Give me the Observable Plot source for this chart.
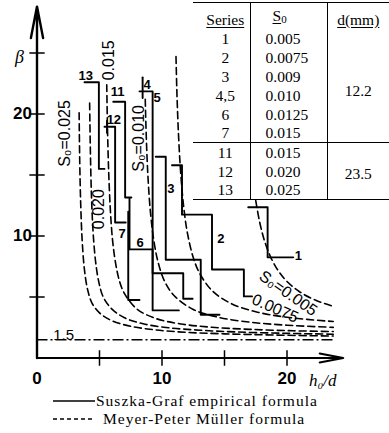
<!DOCTYPE html>
<html><head><meta charset="utf-8">
<script src="https://cdn.jsdelivr.net/npm/d3@7"></script>
<script src="https://cdn.jsdelivr.net/npm/@observablehq/plot@0.6"></script>
<style>
html,body{margin:0;padding:0;background:#fff;}
#wrap{position:relative;width:389px;height:433px;overflow:hidden;background:#fff;}
#chart{position:absolute;left:0;top:0;}
table.t{position:absolute;left:193px;top:2px;border-collapse:collapse;font-family:"Liberation Serif","Times New Roman",serif;font-size:15.5px;color:#000;border-top:1.5px solid #000;border-bottom:1.5px solid #000;}
table.t td,table.t th{padding:0;line-height:17px;height:19px;font-weight:normal;}
table.t th{height:26px;vertical-align:bottom;padding-bottom:1px;text-decoration:underline;text-underline-offset:2px;}
table.t .c1{width:57px;text-align:center;padding-left:8px;box-sizing:border-box;}
table.t .c2{width:77px;text-align:left;padding-left:15px;box-sizing:border-box;border-left:1.5px solid #000;}
table.t .c3{width:62px;text-align:center;box-sizing:border-box;border-left:1.5px solid #000;}
table.t th.c2{padding-left:22px;}
table.t tr.sep td{border-top:1.5px solid #000;}
.leg{position:absolute;left:53px;height:18px;line-height:18px;font-family:"Liberation Serif","Times New Roman",serif;font-size:15.5px;letter-spacing:1px;color:#000;white-space:nowrap;display:flex;align-items:center;}
.leg svg{display:block;}
</style>
</head><body>
<div id="wrap"><div id="chart"></div></div>
<script>
// ---------- data ----------
// Suszka-Graf empirical step lines: [h0/d, beta]
const series1  = [[16.9,12.35],[18.45,12.35],[18.45,8.25],[20.5,8.25]];
const series2  = [[10.8,15.8],[11.6,15.8],[11.6,11.75],[14.0,11.75],[14.0,7.25],[16.55,7.25],[16.55,5.05],[17.2,5.05]];
const series3  = [[9.5,16.5],[10.3,16.5],[10.3,8.05],[13.1,8.05],[13.1,3.55],[14.6,3.55]];
const series4  = [[8.45,23.0],[8.45,21.3]];
const series5  = [[8.2,21.85],[9.25,21.85],[9.25,6.95],[11.7,6.95],[11.7,4.85],[12.45,4.85]];
const series6  = [[7.4,13.1],[7.4,8.9],[9.25,8.9],[9.25,3.9],[11.35,3.9]];
const series7  = [[7.3,12.0],[7.3,4.75],[8.2,4.75]];
const series11 = [[6.1,21.0],[7.05,21.0],[7.05,13.15],[7.55,13.15]];
const series12 = [[5.4,18.95],[6.25,18.95],[6.25,11.1],[7.1,11.1]];
const series12tick = [[5.6,19.45],[5.6,18.45]];
const series13 = [[3.8,22.6],[4.95,22.6],[4.95,15.5],[5.4,15.5]];

// Meyer-Peter Müller curves: [h0/d, beta]
const mpm025  = [[3.37,20.1],[3.42,16],[3.5,12.5],[3.62,9.5],[3.8,7.2],[4.05,5.6],[4.4,4.5],[5.0,3.7],[6.0,3.05],[7.5,2.6],[9.5,2.3],[12,2.1],[15,1.98],[19,1.88],[23.7,1.8]];
const mpm020  = [[4.21,20.9],[4.27,17],[4.36,13.2],[4.5,10.1],[4.7,7.8],[4.95,6.2],[5.3,5.0],[6.0,4.0],[7.0,3.3],[8.5,2.8],[10.5,2.48],[13,2.28],[16,2.13],[20,2.02],[23.7,1.95]];
const mpm015  = [[5.58,22.4],[5.64,18.8],[5.73,15.4],[5.87,12.1],[6.05,9.6],[6.3,7.7],[6.6,6.3],[7.0,5.28],[8.0,4.01],[9.5,3.24],[11.5,2.79],[14,2.52],[17,2.35],[20.5,2.23],[23.7,2.17]];
const mpm010  = [[8.66,21.2],[8.75,17.9],[8.88,14.8],[9.08,11.9],[9.35,9.6],[9.7,7.8],[10.2,6.3],[11,5.08],[12.5,3.98],[14.5,3.34],[17,2.94],[20,2.69],[23.7,2.51]];
const mpm0075 = [[11.12,24.7],[11.2,21.5],[11.33,18.1],[11.5,15.1],[11.75,12.25],[12.05,10.15],[12.5,8.24],[13,6.96],[14,5.53],[15.5,4.48],[17.5,3.79],[20,3.34],[23.7,2.99]];
const mpm005  = [[17.5,12.9],[17.8,11.2],[18.2,9.6],[18.7,8.25],[19.3,7.15],[20,6.27],[21,5.43],[22.3,4.73],[23.7,4.24]];

// threshold line beta = 1.5
const refBeta = 1.5;
const refExtent = [0, 23.7];

// series labels
const seriesLabelText = ["13","12","11","4","5","3","2","1","6","7"];
const seriesLabelX    = [3.9, 6.15, 6.45, 8.8, 9.6, 10.7, 14.7, 20.9, 8.25, 6.8];
const seriesLabelY    = [23.1, 19.5, 21.8, 22.4, 21.3, 13.9, 9.75, 8.4, 9.4, 10.2];

// curve labels
const vertLabelText = ["S₀=0.025","0.015","0.020","S₀=0.010"];
const vertLabelX    = [2.26, 5.71, 4.92, 8.13];
const vertLabelY    = [18.4, 24.4, 12.2, 18.0];
const s005Label = {text:"S₀=0.005", x:20.1, y:5.3};
const s0075Label = {text:"0.0075", x:19.05, y:4.05};
const refLabel = {text:"1.5", x:2.13, y:1.9};

// axes
const xAxisEnd = 24.5, yAxisEnd = 28.8;
const xTickMarks = [5,10,15,20];
const yTickMarks = [5,10,15,20,25];
const xTickLabels = [0,10,20];
const yTickLabels = [10,20];

// table
const tableSeries = ["1","2","3","4,5","6","7","11","12","13"];
const tableS0     = ["0.005","0.0075","0.009","0.010","0.0125","0.015","0.015","0.020","0.025"];
const tableD      = ["12.2","23.5"];
const tableGroup  = [6,3];

// legend
const legendText = ["Suszka-Graf empirical formula","Meyer-Peter Müller formula"];

// ---------- build rows ----------
const stepSets = {s1:series1,s2:series2,s3:series3,s4:series4,s5:series5,s6:series6,s7:series7,s11:series11,s12:series12,s12t:series12tick,s13:series13};
const stepRows = Object.entries(stepSets).flatMap(([k,arr]) => arr.map(([x,y]) => ({k,x,y})));
const curveSets = {"0.025":mpm025,"0.020":mpm020,"0.015":mpm015,"0.010":mpm010,"0.0075":mpm0075,"0.005":mpm005};
const curveRows = Object.entries(curveSets).flatMap(([k,arr]) => arr.map(([x,y]) => ({k,x,y})));
const sLabels = seriesLabelText.map((t,i)=>({t,x:seriesLabelX[i],y:seriesLabelY[i]}));
const vLabels = vertLabelText.map((t,i)=>({t,x:vertLabelX[i],y:vertLabelY[i]}));

const sans = "'Liberation Sans', Arial, Helvetica, sans-serif";
const serif = "'Liberation Serif', 'Times New Roman', serif";

const chart = Plot.plot({
  width: 389, height: 392,
  marginLeft: 36.5, marginRight: 46.25, marginTop: 6.1, marginBottom: 34.5,
  x: {domain: [0, xAxisEnd], axis: null},
  y: {domain: [0, yAxisEnd], axis: null},
  style: {fontFamily: sans, background: "transparent", color: "#000"},
  marks: [
    Plot.line(curveRows, {x:"x", y:"y", z:"k", curve:"catmull-rom", stroke:"#000", strokeWidth:1.6, strokeDasharray:"7,4"}),
    Plot.ruleY([refBeta], {x1: refExtent[0], x2: refExtent[1], stroke:"#000", strokeWidth:1.4, strokeDasharray:"11,3,2,3"}),
    Plot.line(stepRows, {x:"x", y:"y", z:"k", stroke:"#000", strokeWidth:1.9}),
    Plot.text(sLabels, {x:"x", y:"y", text:"t", fontSize:13, fontWeight:"bold", fill:"#000"}),
    Plot.text(vLabels, {x:"x", y:"y", text:"t", rotate:-90, fontSize:16, fill:"#000"}),
    Plot.text([s005Label], {x:"x", y:"y", text:"text", rotate:35, fontSize:16, fill:"#000"}),
    Plot.text([s0075Label], {x:"x", y:"y", text:"text", rotate:24, fontSize:16, fill:"#000"}),
    Plot.text([refLabel], {x:"x", y:"y", text:"text", fontSize:15, fill:"#000"}),
    Plot.arrow([{x1:0,y1:0,x2:xAxisEnd,y2:0}], {x1:"x1",y1:"y1",x2:"x2",y2:"y2", stroke:"#000", strokeWidth:2, headLength:18, headAngle:22}),
    Plot.arrow([{x1:0,y1:0,x2:0,y2:yAxisEnd}], {x1:"x1",y1:"y1",x2:"x2",y2:"y2", stroke:"#000", strokeWidth:2.4, headLength:20, headAngle:22}),
    Plot.dot(xTickMarks, {x: d=>d, y: 0, symbol:"plus", r:5, stroke:"#000", strokeWidth:1.5}),
    Plot.dot(yTickMarks, {x: 0, y: d=>d, symbol:"plus", r:5, stroke:"#000", strokeWidth:1.5}),
    Plot.text(xTickLabels, {x: d=>d, y: 0, text: d=>String(d), dy: 21, fontSize:17, fontWeight:"bold", fill:"#000"}),
    Plot.text(yTickLabels, {x: 0, y: d=>d, text: d=>String(d), textAnchor:"end", dx:-5, fontSize:17, fontWeight:"bold", fill:"#000"}),
    Plot.text(["β"], {frameAnchor:"top-left", textAnchor:"middle", lineAnchor:"middle", dx:-17.5, dy:51, fontSize:18, fontStyle:"italic", fontFamily:serif, fill:"#000"}),
    Plot.text(["h₀/d"], {frameAnchor:"bottom-right", textAnchor:"middle", lineAnchor:"middle", dx:-20.5, dy:23, fontSize:17, fontStyle:"italic", fontFamily:serif, fill:"#000"})
  ]
});
document.getElementById("chart").appendChild(chart);

// table
const wrap = document.getElementById("wrap");
const tbl = document.createElement("table");
tbl.className = "t";
let html = '<tr><th class="c1">Series</th><th class="c2">S<sub style="font-size:11px;vertical-align:-2px">0</sub></th><th class="c3">d(mm)</th></tr>';
let idx = 0;
tableGroup.forEach((n,g) => {
  for (let i=0;i<n;i++,idx++){
    html += `<tr${i===0&&g>0?' class="sep"':''}><td class="c1">${tableSeries[idx]}</td><td class="c2">${tableS0[idx]}</td>`;
    if (i===0) html += `<td class="c3" rowspan="${n}" style="vertical-align:middle;padding-top:${g===0?10:4}px">${tableD[g]}</td>`;
    html += '</tr>';
  }
});
tbl.innerHTML = html;
wrap.appendChild(tbl);

// legend
const legTops = [392, 410];
legendText.forEach((t,i) => {
  const d = document.createElement("div");
  d.className = "leg";
  d.style.top = legTops[i] + "px";
  const dash = i===0 ? "" : "4,3";
  d.innerHTML = `<svg width="${i===0?43:50}" height="10"><line x1="0" y1="5" x2="42" y2="5" stroke="#000" stroke-width="1.5" ${dash?`stroke-dasharray="${dash}"`:""}/></svg><span>${t}</span>`;
  wrap.appendChild(d);
});
</script>
</body></html>
